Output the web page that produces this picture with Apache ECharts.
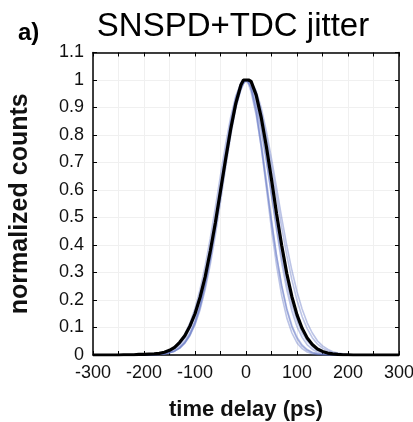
<!DOCTYPE html>
<html>
<head>
<meta charset="utf-8">
<script src="https://cdn.jsdelivr.net/npm/echarts@6/dist/echarts.min.js"></script>
<style>
html,body{margin:0;padding:0;background:#fff;}
#chart{width:413px;height:422px;}
</style>
</head>
<body>
<div id="chart"></div>
<script>
// time delay grid (ps)
const timeDelay = [-300,-290,-280,-270,-260,-250,-240,-230,-220,-210,
  -200,-190,-180,-170,-160,-150,-140,-130,-120,-110,-100,-90,-80,-70,-60,-50,-40,-30,-20,-10,
  -5,0,5,
  10,20,30,40,50,60,70,80,90,100,110,120,130,140,150,160,170,180,190,200,
  210,220,230,240,250,260,270,280,290,300];

// mean histogram (black)
const meanCounts = [0,0,0,0,0,0,0.001,0.001,0.001,0.002,
  0.002,0.003,0.004,0.006,0.010,0.017,0.028,0.046,0.070,0.105,0.150,0.210,0.285,0.378,0.482,0.597,0.712,0.822,0.915,0.982,
  1,1,1,
  0.995,0.945,0.862,0.757,0.638,0.513,0.398,0.296,0.212,0.146,0.097,0.062,0.038,0.022,0.013,0.007,0.004,0.002,0.001,0.001,
  0,0,0,0,0,0,0,0,0,0];

// individual runs (blue)
const run1 = [0,0,0,0,0,0,0,0,0,0,
  0,0,0.001,0.002,0.004,0.008,0.014,0.025,0.044,0.072,0.114,0.172,0.249,0.345,0.458,0.581,0.707,0.823,0.917,0.979,
  0.995,1,0.993,
  0.972,0.893,0.775,0.635,0.492,0.360,0.249,0.163,0.101,0.059,0.032,0.017,0.008,0.004,0.002,0.001,0,0,0,0,
  0,0,0,0,0,0,0,0,0,0];
const run2 = [0,0,0,0,0,0,0,0,0,0,
  0,0.001,0.001,0.003,0.005,0.010,0.018,0.031,0.051,0.081,0.125,0.184,0.261,0.355,0.464,0.582,0.703,0.815,0.908,0.972,
  0.990,0.999,0.998,
  0.985,0.926,0.831,0.711,0.580,0.452,0.335,0.237,0.160,0.103,0.064,0.037,0.021,0.011,0.006,0.003,0.001,0.001,0,0,
  0,0,0,0,0,0,0,0,0,0];
const run3 = [0,0,0,0,0,0,0,0,0,0,
  0.001,0.001,0.003,0.005,0.010,0.017,0.030,0.048,0.076,0.116,0.169,0.239,0.325,0.425,0.537,0.653,0.766,0.865,0.942,0.988,
  0.998,0.999,0.990,
  0.972,0.908,0.815,0.703,0.582,0.464,0.355,0.261,0.184,0.125,0.081,0.051,0.031,0.018,0.010,0.005,0.003,0.001,0.001,0,
  0,0,0,0,0,0,0,0,0,0];
const run4 = [0,0,0,0,0,0,0,0,0,0,
  0,0,0.001,0.002,0.004,0.008,0.014,0.025,0.043,0.070,0.110,0.165,0.238,0.330,0.437,0.557,0.680,0.797,0.896,0.965,
  0.987,0.998,1,
  0.992,0.952,0.882,0.791,0.685,0.573,0.463,0.362,0.273,0.199,0.140,0.096,0.063,0.040,0.025,0.015,0.008,0.005,0.002,0.001,
  0.001,0,0,0,0,0,0,0,0,0];
const run5 = [0,0,0,0,0,0,0,0,0,0,
  0,0.001,0.002,0.004,0.007,0.013,0.023,0.039,0.063,0.098,0.146,0.211,0.292,0.390,0.501,0.618,0.735,0.841,0.926,0.981,
  0.995,1,0.992,
  0.969,0.882,0.755,0.607,0.458,0.325,0.216,0.135,0.080,0.044,0.023,0.011,0.005,0.002,0.001,0,0,0,0,0,
  0,0,0,0,0,0,0,0,0,0];
const run6 = [0,0,0,0,0,0,0,0,0,0,
  0,0,0.001,0.002,0.004,0.008,0.014,0.026,0.045,0.075,0.119,0.180,0.261,0.362,0.479,0.607,0.733,0.848,0.937,0.989,
  1,0.998,0.984,
  0.957,0.872,0.755,0.620,0.484,0.359,0.253,0.169,0.107,0.065,0.037,0.020,0.010,0.005,0.002,0.001,0,0,0,0,
  0,0,0,0,0,0,0,0,0,0];
const run7 = [0,0,0,0,0,0,0,0,0,0,
  0.001,0.001,0.002,0.005,0.008,0.015,0.025,0.041,0.065,0.099,0.146,0.207,0.285,0.377,0.482,0.595,0.708,0.814,0.903,0.966,
  0.986,0.997,1,
  0.994,0.960,0.898,0.813,0.714,0.607,0.499,0.398,0.308,0.230,0.167,0.117,0.080,0.052,0.033,0.021,0.012,0.007,0.004,0.002,
  0.001,0,0,0,0,0,0,0,0,0];

const runs = [run1, run2, run3, run4, run5, run6, run7];

const titleText = 'SNSPD+TDC jitter';
const panelLabel = 'a)';
const xName = 'time delay (ps)';
const yName = 'normalized counts';

const FONT = '"Liberation Sans", Helvetica, Arial, sans-serif';

function pairs(arr){ return timeDelay.map((t,i)=>[t, arr[i]]); }

const series = runs.map(r => ({
  type:'line', data: pairs(r), showSymbol:false, smooth:false,
  lineStyle:{width:1.6, color:'rgba(95,115,195,0.42)'},
  z:2, silent:true
}));
series.push({
  type:'line', data: pairs(meanCounts), showSymbol:false, smooth:false,
  lineStyle:{width:3.2, color:'#000'}, z:5, silent:true
});

const chart = echarts.init(document.getElementById('chart'), null, {renderer:'canvas'});
const axisLine = {show:true, onZero:false, lineStyle:{color:'#000', width:1.5}};
chart.setOption({
  animation:false,
  backgroundColor:'#fff',
  title:{
    text:titleText, left:228, top:5, textAlign:'center',
    textStyle:{fontFamily:FONT, fontSize:33, fontWeight:'normal', color:'#000'}
  },
  graphic:[{
    type:'text', left:18, top:21,
    style:{text:panelLabel, font:'bold 24px ' + FONT, fill:'#000'}
  }],
  grid:{left:93, right:14, top:52.5, bottom:67, containLabel:false, outerBoundsMode:'none'},
  xAxis:[{
    type:'value', min:-300, max:300, interval:100,
    name:xName, nameLocation:'middle', nameGap:44,
    nameTextStyle:{fontFamily:FONT, fontSize:22, fontWeight:'bold', color:'#111'},
    axisLine:axisLine,
    axisTick:{show:true, inside:true, length:4, lineStyle:{color:'#000', width:1}},
    minorTick:{show:true, splitNumber:2, length:4, lineStyle:{color:'#000', width:1}},
    minorSplitLine:{show:true, lineStyle:{color:'#f0f0f0', width:1}},
    splitLine:{show:true, lineStyle:{color:'#f0f0f0', width:1}},
    axisLabel:{fontFamily:FONT, fontSize:18, color:'#111', margin:9, showMinLabel:true, showMaxLabel:true}
  },{
    type:'value', min:-300, max:300, interval:100, position:'top',
    axisLine:axisLine,
    axisTick:{show:true, inside:true, length:4, lineStyle:{color:'#000', width:1}},
    minorTick:{show:true, splitNumber:2, length:4, lineStyle:{color:'#000', width:1}},
    splitLine:{show:false}, axisLabel:{show:false}
  }],
  yAxis:[{
    type:'value', min:0, max:1.1, interval:0.1,
    name:yName, nameLocation:'middle', nameGap:60,
    nameTextStyle:{fontFamily:FONT, fontSize:25, fontWeight:'bold', color:'#111'},
    axisLine:axisLine,
    axisTick:{show:true, inside:true, length:4, lineStyle:{color:'#000', width:1}},
    splitLine:{show:true, lineStyle:{color:'#f0f0f0', width:1}},
    axisLabel:{fontFamily:FONT, fontSize:18, color:'#111', margin:9,
      formatter: v => String(Math.round(v*10)/10)}
  },{
    type:'value', min:0, max:1.1, interval:0.1, position:'right',
    axisLine:axisLine,
    axisTick:{show:true, inside:true, length:4, lineStyle:{color:'#000', width:1}},
    splitLine:{show:false}, axisLabel:{show:false}
  }],
  series: series
});
</script>
</body>
</html>
